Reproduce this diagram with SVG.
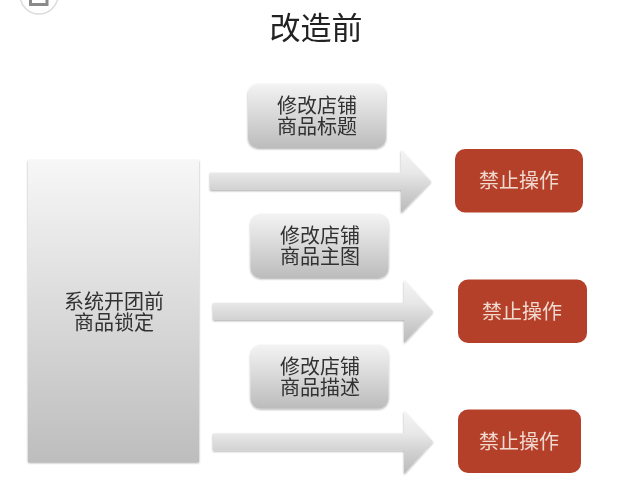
<svg xmlns="http://www.w3.org/2000/svg" width="624" height="485" viewBox="0 0 624 485">
<style>
text{font-family:"Noto Sans CJK SC","Liberation Sans",sans-serif;text-anchor:middle;filter:url(#txt)}
.t{font-size:20px;fill:#303030}
.w{font-size:20px;fill:#f0d9cf}
.g{fill:url(#boxGrad);filter:url(#sh)}
.r{fill:#b5412c;filter:url(#soft)}
.a{fill:url(#arrowGrad);filter:url(#sh)}
</style>
<defs>
<linearGradient id="boxGrad" x1="0" y1="0" x2="0" y2="1"><stop offset="0" stop-color="#f3f3f3"/><stop offset="1" stop-color="#bcbcbc"/></linearGradient>
<linearGradient id="leftGrad" x1="0" y1="0" x2="0" y2="1"><stop offset="0" stop-color="#f7f7f7"/><stop offset="1" stop-color="#bdbdbd"/></linearGradient>
<linearGradient id="arrowGrad" x1="0" y1="0" x2="0" y2="1"><stop offset="0" stop-color="#f4f4f4"/><stop offset="0.36" stop-color="#e8e8e8"/><stop offset="0.63" stop-color="#d2d2d2"/><stop offset="1" stop-color="#bababa"/></linearGradient>
<filter id="sh" x="-5%" y="-5%" width="110%" height="115%"><feGaussianBlur in="SourceAlpha" stdDeviation="0.8"/><feOffset dy="1"/><feComponentTransfer><feFuncA type="linear" slope="0.35"/></feComponentTransfer><feMerge><feMergeNode/><feMergeNode in="SourceGraphic"/></feMerge></filter>
<filter id="soft" x="-5%" y="-5%" width="110%" height="110%"><feGaussianBlur stdDeviation="0.5"/></filter>
<filter id="txt" x="-5%" y="-5%" width="110%" height="110%"><feGaussianBlur stdDeviation="0.35"/></filter>
</defs>
<g id="corner-icon">
<circle cx="39" cy="-5" r="19" fill="#fff" stroke="#dcdcdc" stroke-width="1.5"/>
<path d="M30.500 0V4.500H47V0" fill="none" stroke="#8a8a8a" stroke-width="3"/>
</g>
<g id="title"><text x="316" y="39" font-size="31" fill="#222">改造前</text></g>
<g id="connectors">
<path class="a" d="M210 172.700H401V150L431 181.500L401 213V190H210Z"/>
<path class="a" d="M213 303H404V280L433 311.500L404 343V320H213Z"/>
<path class="a" d="M213 433.500H404V411L433 441.500L404 474V450.500H213Z"/>
</g>
<g id="left-node">
<rect x="28" y="160" width="171" height="302" fill="url(#leftGrad)" filter="url(#sh)"/>
<text class="t" x="114" y="309">系统开团前<tspan x="114" dy="20.500">商品锁定</tspan></text>
</g>
<g id="node-title">
<rect class="g" x="248" y="84" width="138" height="64" rx="10"/>
<text class="t" x="317" y="112.500">修改店铺<tspan x="317" dy="21">商品标题</tspan></text>
</g>
<g id="node-image">
<rect class="g" x="250.500" y="214" width="138" height="64" rx="10"/>
<text class="t" x="320" y="242.500">修改店铺<tspan x="320" dy="21">商品主图</tspan></text>
</g>
<g id="node-desc">
<rect class="g" x="250.500" y="345" width="138" height="63.500" rx="10"/>
<text class="t" x="320" y="373.500">修改店铺<tspan x="320" dy="21">商品描述</tspan></text>
</g>
<g id="block-1">
<rect class="r" x="455" y="149" width="128" height="63.500" rx="10"/>
<text class="w" x="519" y="188">禁止操作</text>
</g>
<g id="block-2">
<rect class="r" x="458" y="279.500" width="129" height="63.500" rx="10"/>
<text class="w" x="522" y="318.500">禁止操作</text>
</g>
<g id="block-3">
<rect class="r" x="458" y="409.500" width="123" height="63.500" rx="10"/>
<text class="w" x="519" y="448.500">禁止操作</text>
</g>
</svg>
